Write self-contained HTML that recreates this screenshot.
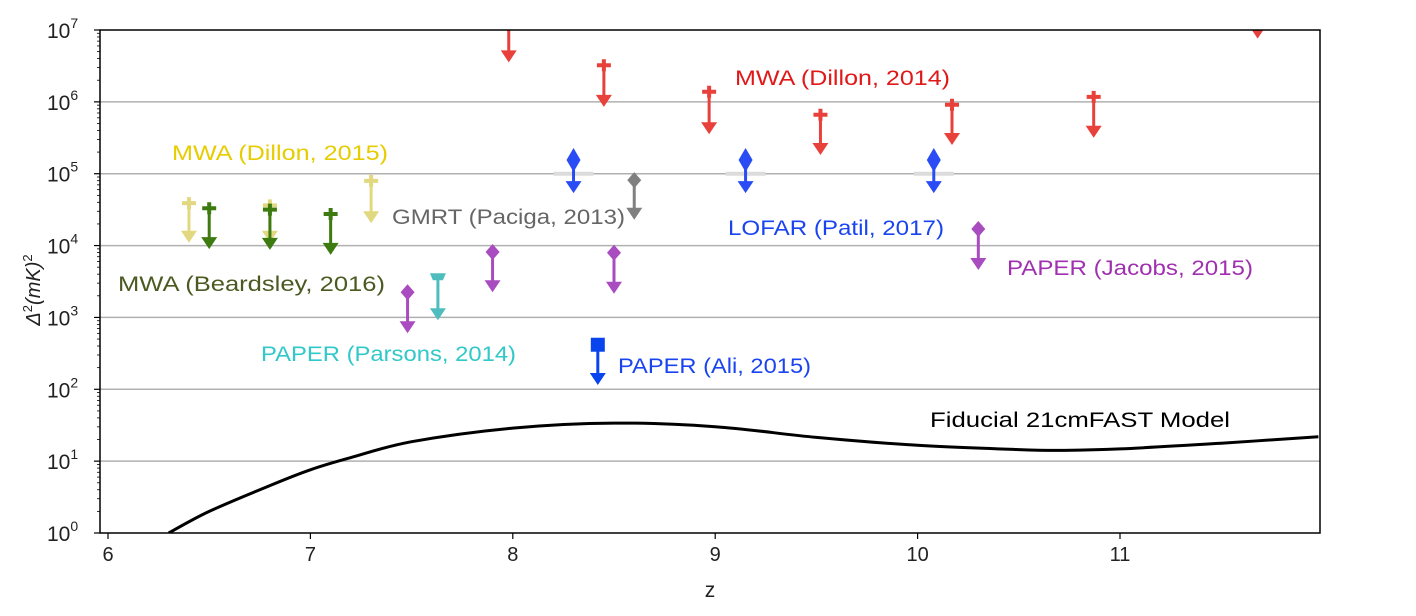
<!DOCTYPE html>
<html><head><meta charset="utf-8"><style>
html,body{margin:0;padding:0;background:#fff;width:1416px;height:616px;overflow:hidden}
svg{display:block;font-family:"Liberation Sans",sans-serif}
</style></head><body>
<svg id="chart" width="1416" height="616">
  <g id="grid"></g>
  <g id="model"></g>
  <g id="marks"></g>
  <g id="axes"></g>
  <g id="labels"></g>
</svg>
<script>
const xTicks = [6,7,8,9,10,11];
const yTicks = [0,1,2,3,4,5,6,7];
const mwa14Z = [7.98,8.45,8.97,9.52,10.17,10.87,11.68];
const mwa14Top = [7.3,6.51,6.14,5.82,5.96,6.07,7.05];
const mwa14Bot = [6.55,5.93,5.55,5.26,5.40,5.50,6.88];
const mwa15Z = [6.40,6.80,7.30];
const mwa15Top = [4.59,4.56,4.90];
const mwa15Bot = [4.04,4.04,4.31];
const mwa16Z = [6.50,6.80,7.10];
const mwa16Top = [4.52,4.50,4.44];
const mwa16Bot = [3.95,3.94,3.87];
const gmrtZ = [8.60];
const gmrtTop = [4.91];
const gmrtBot = [4.36];
const lofarZ = [8.30,9.15,10.08];
const lofarTop = [5.19,5.19,5.19];
const lofarBot = [4.73,4.73,4.73];
const jacobsZ = [7.48,7.90,8.50,10.30];
const jacobsTop = [3.35,3.91,3.90,4.23];
const jacobsBot = [2.78,3.35,3.33,3.66];
const parsonsZ = [7.63];
const parsonsTop = [3.56];
const parsonsBot = [2.96];
const aliZ = [8.42];
const aliTop = [2.62];
const aliBot = [2.06];
const modelZ = [6.30,6.50,6.80,7.00,7.20,7.50,8.00,8.50,9.00,9.50,10.00,10.50,10.70,11.00,11.50,11.98];
const modelLog = [0.0,0.30,0.66,0.88,1.05,1.27,1.46,1.53,1.48,1.33,1.22,1.16,1.15,1.17,1.25,1.34];

const L=100,R=1320,T=30,B=533;
const X=z=>108+(z-6)*202.4;
const Y=l=>B-(l)*(B-T)/7;
const NS="http://www.w3.org/2000/svg";
function mk(tag,attrs,parent){const e=document.createElementNS(NS,tag);for(const k in attrs)e.setAttribute(k,attrs[k]);parent.appendChild(e);return e;}
const grid=document.getElementById('grid'),axes=document.getElementById('axes'),marks=document.getElementById('marks'),labels=document.getElementById('labels'),model=document.getElementById('model');

yTicks.forEach(t=>{
  const y=Y(t);
  if(t>0&&t<7){const g=mk('line',{x1:L,x2:R,y1:y,y2:y,stroke:'#b0b0b0','stroke-width':1.5},grid);
  
  }
  mk('line',{x1:L-6,x2:L,y1:y,y2:y,stroke:'#000','stroke-width':1.2},axes);
  const tx=mk('text',{x:L-53,y:y+8,'font-size':21,fill:'#222'},axes);
  
  
  tx.innerHTML='10<tspan dy="-10" font-size="14">'+t+'</tspan>';
  if(t<7)for(let m=2;m<10;m++){const yy=Y(t+Math.log10(m));mk('line',{x1:L-3,x2:L,y1:yy,y2:yy,stroke:'#000','stroke-width':0.8},axes);}
});
xTicks.forEach(t=>{
  const x=X(t);
  mk('line',{x1:x,x2:x,y1:B,y2:B+6,stroke:'#000','stroke-width':1.2},axes);
  const tx=mk('text',{x:x,y:B+28,'font-size':20,fill:'#222','text-anchor':'middle'},axes);
  
  
  tx.textContent=t;
});
const fr=mk('rect',{x:L,y:T,width:R-L,height:B-T,fill:'none',stroke:'#000','stroke-width':1.5},axes);


const xl=mk('text',{x:710,y:597,'font-size':21,fill:'#222','text-anchor':'middle'},axes);


xl.textContent='z';
const yl=mk('text',{x:0,y:0,'font-size':20,fill:'#222','text-anchor':'middle',transform:'translate(40,290) rotate(-90)'},axes);


yl.innerHTML='<tspan font-style="italic">Δ</tspan><tspan dy="-8" font-size="13">2</tspan><tspan dy="8" font-style="italic">(mK)</tspan><tspan dy="-8" font-size="13">2</tspan>';

// model: Catmull-Rom smoothing
const pts=modelZ.map((z,i)=>[X(z),Y(modelLog[i])]);
let d='M'+pts[0][0].toFixed(1)+','+pts[0][1].toFixed(1);
for(let i=0;i<pts.length-1;i++){
  const p0=pts[Math.max(0,i-1)],p1=pts[i],p2=pts[i+1],p3=pts[Math.min(pts.length-1,i+2)];
  const c1=[p1[0]+(p2[0]-p0[0])/6,p1[1]+(p2[1]-p0[1])/6],c2=[p2[0]-(p3[0]-p1[0])/6,p2[1]-(p3[1]-p1[1])/6];
  d+=`C${c1[0].toFixed(1)},${c1[1].toFixed(1)} ${c2[0].toFixed(1)},${c2[1].toFixed(1)} ${p2[0].toFixed(1)},${p2[1].toFixed(1)}`;
}
const mp=mk('path',{d:d,fill:'none',stroke:'#000','stroke-width':3,'stroke-linejoin':'round'},model);



const clip=mk('clipPath',{id:'pc'},document.getElementById('chart'));
mk('rect',{x:L,y:T,width:R-L,height:B-T},clip);
marks.setAttribute('clip-path','url(#pc)');
model.setAttribute('clip-path','url(#pc)');

function series(name,zs,tops,bots,color,topShape,op){
  zs.forEach((z,i)=>{
    const g=mk('g',{opacity:op||1},marks);
    
    
    const x=X(z),yt=Y(tops[i]),yb=Y(bots[i]);
    mk('line',{x1:x,x2:x,y1:yt,y2:yb-8,stroke:color,'stroke-width':3},g);
    mk('path',{d:`M${x-8},${yb-12}L${x+8},${yb-12}L${x},${yb}Z`,fill:color},g);
    if(topShape==='star'){mk('path',{d:`M${x-7},${yt}L${x+7},${yt}M${x},${yt-6}L${x},${yt+6}`,stroke:color,'stroke-width':4},g);}
    else if(topShape==='diamond'){mk('path',{d:`M${x},${yt-12}L${x+7},${yt}L${x},${yt+12}L${x-7},${yt}Z`,fill:color},g);}
    else if(topShape==='smalldiamond'){mk('path',{d:`M${x},${yt-8}L${x+7},${yt}L${x},${yt+8}L${x-7},${yt}Z`,fill:color},g);}
    else if(topShape==='square'){mk('rect',{x:x-7,y:yt-7,width:14,height:14,fill:color},g);}
    else if(topShape==='bar'){mk('path',{d:`M${x-8},${yt-4}L${x+8},${yt-4}L${x+5},${yt+3}L${x-5},${yt+3}Z`,fill:color},g);}
  });
}
lofarZ.forEach(z=>{const h=mk('line',{x1:X(z)-20,x2:X(z)+20,y1:Y(5),y2:Y(5),stroke:'#dcdcdc','stroke-width':4},marks);

});
series('mwa-dillon-2015',mwa15Z,mwa15Top,mwa15Bot,'#d9cc55','star',0.75);
series('mwa-beardsley-2016',mwa16Z,mwa16Top,mwa16Bot,'#3d7a10','star');
series('mwa-dillon-2014',mwa14Z,mwa14Top,mwa14Bot,'#e8403a','star');
series('gmrt-paciga-2013',gmrtZ,gmrtTop,gmrtBot,'#808080','smalldiamond');
series('lofar-patil-2017',lofarZ,lofarTop,lofarBot,'#2a4cf5','diamond');
series('paper-jacobs-2015',jacobsZ,jacobsTop,jacobsBot,'#a94cc0','smalldiamond');
series('paper-parsons-2014',parsonsZ,parsonsTop,parsonsBot,'#4fbdbd','bar');
series('paper-ali-2015',aliZ,aliTop,aliBot,'#0a44ee','square');

const labs=[
 ['MWA (Dillon, 2014)',735,85,'#e01818',215],
 ['MWA (Dillon, 2015)',172,160,'#e6cc00',216],
 ['GMRT (Paciga, 2013)',392,224,'#666',233],
 ['LOFAR (Patil, 2017)',728,235,'#1a44f0',216],
 ['MWA (Beardsley, 2016)',118,291,'#4a5a20',267],
 ['PAPER (Jacobs, 2015)',1007,275,'#a030b0',246],
 ['PAPER (Parsons, 2014)',261,361,'#30c8c8',255],
 ['PAPER (Ali, 2015)',618,373,'#1a44f0',193],
 ['Fiducial 21cmFAST Model',930,427,'#000',300]];
labs.forEach(a=>{const t=mk('text',{x:a[1],y:a[2],'font-size':21,fill:a[3],textLength:a[4],lengthAdjust:'spacingAndGlyphs'},labels);


t.textContent=a[0];});
</script>
</body></html>
